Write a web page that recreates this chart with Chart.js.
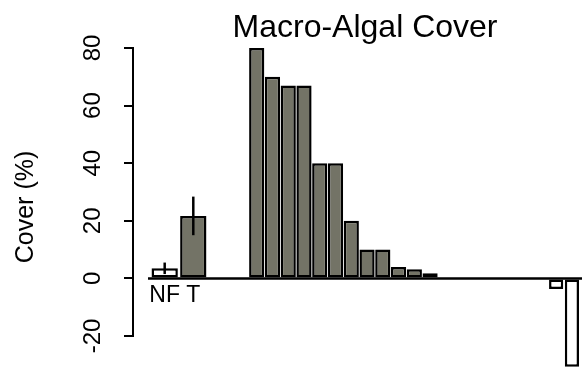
<!DOCTYPE html>
<html>
<head>
<meta charset="utf-8">
<script src="https://cdn.jsdelivr.net/npm/chart.js@4.4.1/dist/chart.umd.min.js"></script>
<style>
  html, body { margin: 0; padding: 0; background: #fff; }
  canvas { display: block; }
</style>
</head>
<body>
<canvas id="coverChart" width="582" height="373"></canvas>
<script>
// Macro-algal cover: two site means with error bars, then per-taxon bars

const siteLabels = ['NF', 'T'];
const siteCover = [3.5, 21.7];
const siteError = [2, 6.7];

const taxonCover = [80, 70, 67, 67, 40, 40, 20, 10, 10, 4, 3.2, 1.8, 0, 0, 0, 0, 0, 0, 0];
const lossCover = [-3.7, -30.7];

const yTicks = [-20, 0, 20, 40, 60, 80];

const FONT = "'Liberation Sans', Arial, Helvetica, sans-serif";
const GRAY = '#737366';

const decor = {
    id: 'decor',
    beforeDatasetsDraw(chart) {
        const { ctx, chartArea, scales: { y } } = chart;
        const y0 = y.getPixelForValue(0);
        ctx.save();
        ctx.strokeStyle = '#000';
        ctx.lineWidth = 2.5;
        ctx.beginPath();
        ctx.moveTo(chartArea.left + 15, y0);
        ctx.lineTo(chartArea.right, y0);
        ctx.stroke();
        ctx.restore();
    },
    afterDatasetsDraw(chart) {
        const { ctx, chartArea, scales: { y, x2 } } = chart;
        ctx.save();

        // error bars on the site means
        ctx.strokeStyle = '#000';
        ctx.lineWidth = 2.5;
        siteCover.forEach((v, i) => {
            const px = x2.getPixelForValue(i);
            ctx.beginPath();
            ctx.moveTo(px, y.getPixelForValue(v - siteError[i]));
            ctx.lineTo(px, y.getPixelForValue(v + siteError[i]));
            ctx.stroke();
        });

        ctx.fillStyle = '#000';

        // site names under the bars
        ctx.font = '23px ' + FONT;
        ctx.textAlign = 'center';
        ctx.textBaseline = 'alphabetic';
        siteLabels.forEach((s, i) => {
            ctx.fillText(s, x2.getPixelForValue(i), y.getPixelForValue(0) + 24);
        });

        // rotated y tick labels, R style
        ctx.font = '24px ' + FONT;
        y.ticks.forEach(t => {
            ctx.save();
            ctx.translate(chartArea.left - 33, y.getPixelForValue(t.value));
            ctx.rotate(-Math.PI / 2);
            ctx.fillText(String(t.value), 0, 0);
            ctx.restore();
        });

        // y axis title
        ctx.save();
        ctx.font = '25px ' + FONT;
        ctx.translate(33, 207);
        ctx.rotate(-Math.PI / 2);
        ctx.fillText('Cover (%)', 0, 0);
        ctx.restore();

        // main title, centred on the plot region
        ctx.font = '32px ' + FONT;
        ctx.fillText('Macro-Algal Cover', (chartArea.left + 15 + chartArea.right) / 2, 37);

        ctx.restore();
    }
};

new Chart(document.getElementById('coverChart').getContext('2d'), {
    type: 'bar',
    data: {
        datasets: [
            {
                label: 'Sites',
                xAxisID: 'x2',
                data: siteCover.map((v, i) => ({ x: i, y: v })),
                backgroundColor: ['#ffffff', GRAY],
                barPercentage: 0.92,
                categoryPercentage: 1
            },
            {
                label: 'Taxa',
                xAxisID: 'x',
                data: taxonCover.map((v, i) => ({ x: i, y: v })),
                backgroundColor: GRAY,
                barPercentage: 0.965,
                categoryPercentage: 1
            },
            {
                label: 'Losses',
                xAxisID: 'x',
                data: lossCover.map((v, i) => ({ x: taxonCover.length + i, y: v })),
                backgroundColor: '#ffffff',
                barPercentage: 0.9,
                categoryPercentage: 1
            }
        ]
    },
    options: {
        responsive: false,
        animation: false,
        layout: { padding: { top: 48, bottom: 37, left: 0, right: 0 } },
        datasets: {
            bar: {
                grouped: false,
                clip: false,
                borderColor: '#000',
                borderWidth: 2.5,
                borderSkipped: false
            }
        },
        scales: {
            x: {
                type: 'linear',
                display: false,
                offset: false,
                min: -7.85,
                max: 20.64,
                ticks: { stepSize: 1 }
            },
            x2: {
                type: 'linear',
                display: false,
                offset: false,
                min: -1.108,
                max: 14.59,
                ticks: { stepSize: 1 }
            },
            y: {
                min: -20,
                max: 80,
                afterBuildTicks: scale => { scale.ticks = yTicks.map(v => ({ value: v })); },
                afterFit: scale => { scale.width = 133; },
                ticks: { display: false },
                grid: {
                    drawOnChartArea: false,
                    drawTicks: true,
                    tickLength: 9,
                    color: '#000',
                    lineWidth: 2
                },
                border: { display: true, color: '#000', width: 2 }
            }
        },
        plugins: {
            legend: { display: false },
            title: { display: false },
            tooltip: { enabled: false }
        }
    },
    plugins: [decor]
});
</script>
</body>
</html>
